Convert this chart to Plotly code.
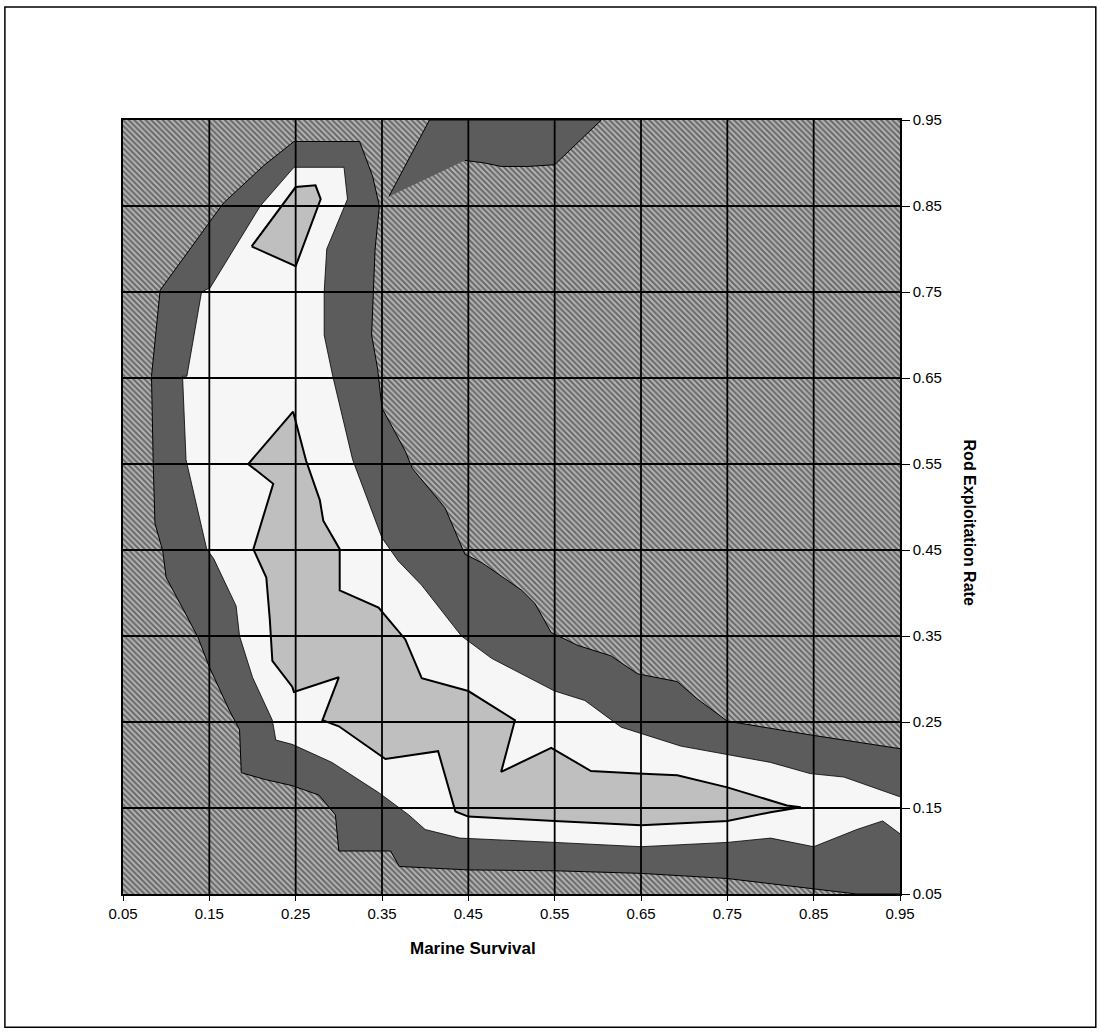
import plotly.graph_objects as go

# ---------------- data ----------------
tick_vals = [0.05, 0.15, 0.25, 0.35, 0.45, 0.55, 0.65, 0.75, 0.85, 0.95]
tick_text = ["0.05", "0.15", "0.25", "0.35", "0.45", "0.55", "0.65", "0.75", "0.85", "0.95"]

# outer edge of the dark band (gray / dark boundary)
dark_x = [0.95, 0.846, 0.75, 0.715, 0.692, 0.646, 0.615, 0.577, 0.546, 0.527, 0.512, 0.466,
          0.446, 0.423, 0.385, 0.377, 0.350, 0.345, 0.338, 0.342, 0.347, 0.339, 0.324,
          0.248, 0.213, 0.166, 0.093, 0.083, 0.085, 0.087, 0.096, 0.100, 0.123, 0.137,
          0.150, 0.173, 0.185, 0.187, 0.215, 0.246, 0.277, 0.296, 0.300, 0.360, 0.370,
          0.450, 0.550, 0.650, 0.750, 0.800, 0.850, 0.900, 0.95]
dark_y = [0.219, 0.235, 0.251, 0.277, 0.297, 0.306, 0.327, 0.339, 0.354, 0.388, 0.403, 0.435,
          0.445, 0.499, 0.545, 0.565, 0.615, 0.660, 0.700, 0.800, 0.850, 0.885, 0.925,
          0.925, 0.897, 0.853, 0.752, 0.652, 0.551, 0.481, 0.449, 0.418, 0.375, 0.348,
          0.314, 0.264, 0.241, 0.191, 0.183, 0.176, 0.165, 0.142, 0.100, 0.100, 0.082,
          0.078, 0.077, 0.074, 0.068, 0.062, 0.056, 0.050, 0.050]

# dark intrusion at the top
top_x = [0.358, 0.405, 0.604, 0.558, 0.550, 0.519, 0.488, 0.469, 0.446]
top_y = [0.861, 0.950, 0.950, 0.905, 0.898, 0.896, 0.896, 0.900, 0.903]

# inner edge of the dark band (dark / white boundary)
white_x = [0.95, 0.885, 0.846, 0.800, 0.696, 0.650, 0.627, 0.585, 0.550, 0.477, 0.442, 0.396,
           0.369, 0.350, 0.316, 0.293, 0.283, 0.283, 0.286, 0.310, 0.306, 0.248, 0.209,
           0.151, 0.141, 0.124, 0.119, 0.123, 0.147, 0.155, 0.181, 0.185, 0.200, 0.223,
           0.227, 0.246, 0.292, 0.346, 0.381, 0.400, 0.440, 0.550, 0.650, 0.750, 0.800,
           0.850, 0.900, 0.930, 0.95]
white_y = [0.163, 0.186, 0.190, 0.203, 0.222, 0.237, 0.244, 0.275, 0.286, 0.324, 0.350, 0.409,
           0.437, 0.464, 0.555, 0.652, 0.700, 0.750, 0.800, 0.858, 0.895, 0.895, 0.850,
           0.755, 0.750, 0.652, 0.652, 0.555, 0.451, 0.440, 0.385, 0.350, 0.302, 0.252,
           0.229, 0.224, 0.203, 0.168, 0.142, 0.125, 0.115, 0.110, 0.105, 0.110, 0.115,
           0.105, 0.125, 0.135, 0.120]

# upper core
core1_x = [0.199, 0.250, 0.273, 0.279, 0.250, 0.199]
core1_y = [0.803, 0.872, 0.874, 0.858, 0.780, 0.803]

# main core
core2_x = [0.247, 0.195, 0.224, 0.201, 0.216, 0.220, 0.223, 0.246, 0.248, 0.300, 0.281, 0.300,
           0.354, 0.415, 0.435, 0.450, 0.550, 0.650, 0.750, 0.800, 0.835, 0.819, 0.750,
           0.692, 0.646, 0.592, 0.546, 0.488, 0.504, 0.450, 0.396, 0.377, 0.346, 0.301,
           0.301, 0.282, 0.278, 0.262, 0.247]
core2_y = [0.611, 0.550, 0.527, 0.451, 0.418, 0.370, 0.321, 0.291, 0.285, 0.302, 0.252, 0.245,
           0.207, 0.216, 0.146, 0.140, 0.135, 0.130, 0.135, 0.145, 0.151, 0.153, 0.174,
           0.188, 0.190, 0.193, 0.220, 0.192, 0.252, 0.286, 0.301, 0.346, 0.383, 0.403,
           0.451, 0.484, 0.508, 0.554, 0.611]

DARK = "#5c5c5c"
WHITE = "#f6f6f6"
CORE = "#bfbfbf"
FONT = "Liberation Sans"

fig = go.Figure()

lo, hi = tick_vals[0], tick_vals[-1]
# outer (lowest) band: diagonal hatch over the whole plot area
fig.add_trace(go.Scatter(x=[lo, hi, hi, lo, lo], y=[lo, lo, hi, hi, lo], mode="lines",
                         fill="toself", fillcolor="#909090",
                         fillpattern=dict(shape="\\", fgcolor="#1a1a1a", bgcolor="#b4b4b4",
                                          size=4, solidity=0.5),
                         line=dict(width=0), hoverinfo="skip", showlegend=False))


def poly(xs, ys, fill, lw, pattern=None):
    kw = {}
    if pattern:
        kw["fillpattern"] = pattern
    fig.add_trace(go.Scatter(x=xs, y=ys, mode="lines", fill="toself", fillcolor=fill,
                             line=dict(color="black", width=lw), hoverinfo="skip",
                             showlegend=False, **kw))


poly(dark_x, dark_y, DARK, 1)
poly(top_x, top_y, DARK, 1)
poly(white_x, white_y, WHITE, 0.8)
poly(core1_x, core1_y, CORE, 2)
poly(core2_x, core2_y, CORE, 2)

shapes = []
for v in tick_vals[1:-1]:
    shapes.append(dict(type="line", xref="x", yref="y", x0=v, x1=v, y0=lo, y1=hi,
                       line=dict(color="black", width=1.8), layer="above"))
    shapes.append(dict(type="line", xref="x", yref="y", y0=v, y1=v, x0=lo, x1=hi,
                       line=dict(color="black", width=1.8), layer="above"))
# outer frame of the figure
shapes.append(dict(type="rect", xref="paper", yref="paper", x0=-0.152, x1=1.252, y0=-0.172, y1=1.146,
                   line=dict(color="black", width=1.5), layer="below"))

fig.update_layout(
    width=1101, height=1034,
    margin=dict(l=123, r=201, t=120, b=140),
    paper_bgcolor="white", plot_bgcolor="white",
    shapes=shapes,
    font=dict(family=FONT, color="black", size=15),
    xaxis=dict(range=[lo, hi], tickvals=tick_vals, ticktext=tick_text, showgrid=False,
               zeroline=False, showline=True, mirror=True, linecolor="black", linewidth=1.5,
               ticks="outside", ticklen=5, tickcolor="black", tickfont=dict(size=15, family=FONT)),
    yaxis=dict(range=[lo, hi], tickvals=tick_vals, ticktext=tick_text, showgrid=False,
               zeroline=False, side="right", showline=True, mirror=True, linecolor="black",
               linewidth=1.5, ticks="outside", ticklen=8, tickcolor="black",
               tickfont=dict(size=15, family=FONT)),
    annotations=[
        dict(text="<b>Marine Survival</b>", xref="paper", yref="paper", x=0.45, y=-0.07,
             showarrow=False, font=dict(size=17, family=FONT), xanchor="center", yanchor="middle"),
        dict(text="<b>Rod Exploitation Rate</b>", xref="paper", yref="paper",
             x=1.09, y=0.48, showarrow=False, textangle=90,
             font=dict(size=16, family=FONT), xanchor="center", yanchor="middle")],
)

fig.write_html("out.html")
